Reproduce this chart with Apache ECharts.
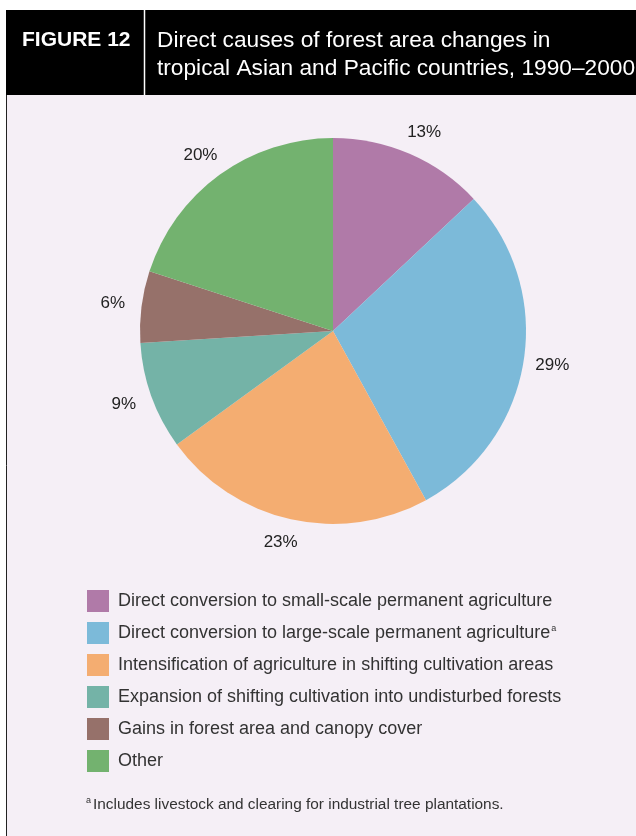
<!DOCTYPE html>
<html>
<head>
<meta charset="utf-8">
<script src="https://cdn.jsdelivr.net/npm/echarts@6/dist/echarts.min.js"></script>
<style>
  html, body { margin: 0; padding: 0; background: #fff; }
  #main { width: 636px; height: 836px; }
</style>
</head>
<body>
<div id="main"></div>
<script>
// data
var causes = [
  'Direct conversion to small-scale permanent agriculture',
  'Direct conversion to large-scale permanent agriculture',
  'Intensification of agriculture in shifting cultivation areas',
  'Expansion of shifting cultivation into undisturbed forests',
  'Gains in forest area and canopy cover',
  'Other'
];
var shares = [13, 29, 23, 9, 6, 20];
var sliceColors = ['#b07aa8', '#7cbad9', '#f4ad71', '#74b3a7', '#96716a', '#73b26f'];
var noteItem = 'Direct conversion to large-scale permanent agriculture'; // gets the "a" mark

var font = '"Liberation Sans", Arial, Helvetica, sans-serif';

var seriesData = [];
shares.forEach(function (v, i) {
  seriesData.push({ name: causes[i], value: v });
});

var myChart = echarts.init(document.getElementById('main'));

var option = {
  backgroundColor: '#fff',
  color: sliceColors,
  animation: false,
  graphic: [
    // header band
    { type: 'rect', shape: { x: 6, y: 10, width: 630, height: 85 }, style: { fill: '#000' }, z: 0 },
    { type: 'rect', shape: { x: 6, y: 95, width: 630, height: 741 }, style: { fill: '#f5eff6' }, z: 0 },
    { type: 'line', shape: { x1: 6.5, y1: 95, x2: 6.5, y2: 836 }, style: { stroke: '#222', lineWidth: 1 }, z: 1 },
    { type: 'line', shape: { x1: 144.5, y1: 10, x2: 144.5, y2: 95 }, style: { stroke: '#fff', lineWidth: 1.5 }, z: 1 },
    {
      type: 'text', left: 22, top: 30, z: 2,
      style: { text: 'FIGURE 12', fill: '#fff', font: 'bold 21px ' + font }
    },
    {
      type: 'text', left: 157, top: 27, z: 2,
      style: {
        text: 'Direct causes of forest area changes in\ntropical Asian and Pacific countries, 1990\u20132000',
        fill: '#fff', font: '22.7px ' + font, lineHeight: 28
      }
    },
    // footnote
    {
      type: 'text', left: 86, top: 796, z: 2,
      style: { text: 'a', fill: '#333', font: '9px ' + font }
    },
    {
      type: 'text', left: 93, top: 797, z: 2,
      style: { text: 'Includes livestock and clearing for industrial tree plantations.', fill: '#333', font: '15.4px ' + font }
    }
  ],
  legend: {
    orient: 'vertical',
    left: 82,
    top: 585,
    itemWidth: 22,
    itemHeight: 22,
    itemGap: 10,
    icon: 'rect',
    selectedMode: false,
    data: causes,
    formatter: function (name) {
      if (name === noteItem) return '{n|' + name + '}{s|a}';
      return '{n|' + name + '}';
    },
    textStyle: {
      color: '#333',
      fontFamily: font,
      fontSize: 18,
      padding: [0, 0, 0, 4],
      rich: {
        n: { fontSize: 18, fontFamily: font, color: '#333' },
        s: { fontSize: 9, fontFamily: font, color: '#333', padding: [0, 0, 9, 1] }
      }
    }
  },
  series: [
    {
      type: 'pie',
      center: [333, 331],
      radius: 193,
      startAngle: 90,
      clockwise: true,
      avoidLabelOverlap: false,
      silent: true,
      itemStyle: { borderWidth: 0 },
      label: {
        show: true,
        position: 'outside',
        formatter: '{c}%',
        color: '#222',
        fontFamily: font,
        fontSize: 17
      },
      labelLine: { show: false, length: 24, length2: 0 },
      labelLayout: { align: 'center', verticalAlign: 'middle' },
      data: seriesData
    }
  ]
};
myChart.setOption(option, true);
</script>
</body>
</html>
